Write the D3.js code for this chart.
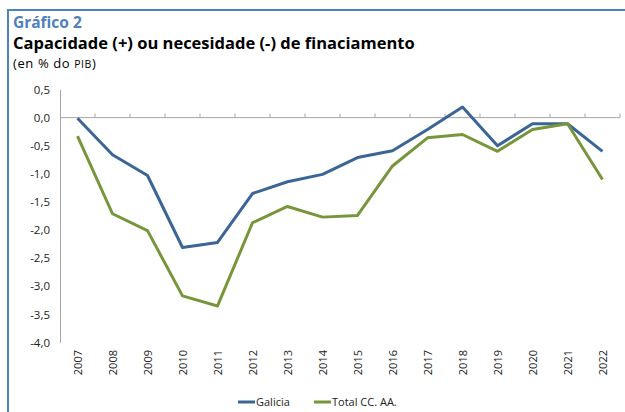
<!DOCTYPE html>
<html>
<head>
<meta charset="utf-8">
<script src="https://cdn.jsdelivr.net/npm/d3@7"></script>
<style>
  body { margin: 0; background: #fff; }
  svg { display: block; font-family: "Open Sans", sans-serif; }
</style>
</head>
<body>
<div id="chart"></div>
<script>
// datos
const years = ['2007','2008','2009','2010','2011','2012','2013','2014','2015','2016','2017','2018','2019','2020','2021','2022'];
const galicia = [-0.01,-0.66,-1.03,-2.31,-2.22,-1.35,-1.14,-1.01,-0.71,-0.59,-0.21,0.19,-0.50,-0.11,-0.11,-0.60];
const totalCCAA = [-0.33,-1.71,-2.01,-3.17,-3.35,-1.87,-1.58,-1.77,-1.74,-0.86,-0.36,-0.30,-0.60,-0.21,-0.11,-1.10];
const yTicks = [0.5,0,-0.5,-1,-1.5,-2,-2.5,-3,-3.5,-4];
const seriesNames = ['Galicia', 'Total CC. AA.'];
const colors = ['#3b6596', '#77963c'];

const width = 625, height = 412;
const svg = d3.select('#chart').append('svg')
    .attr('width', width)
    .attr('height', height);

// marco
svg.append('line').attr('x1', 8).attr('x2', width).attr('y1', 10).attr('y2', 10)
    .attr('stroke', '#4f81bd').attr('stroke-width', 2);
svg.append('line').attr('x1', 8).attr('x2', 8).attr('y1', 9).attr('y2', height)
    .attr('stroke', '#4f81bd').attr('stroke-width', 2);

// títulos
svg.append('text').attr('x', 13).attr('y', 28)
    .attr('fill', '#4f81bd').attr('font-size', 15.5).attr('font-weight', 'bold')
    .text('Gráfico 2');
svg.append('text').attr('x', 13).attr('y', 49)
    .attr('fill', '#000').attr('font-size', 16.5).attr('font-weight', 'bold')
    .text('Capacidade (+) ou necesidade (-) de finaciamento');
const sub = svg.append('text').attr('x', 13).attr('y', 68)
    .attr('fill', '#000').attr('font-size', 13).attr('letter-spacing', 0.6);
sub.append('tspan').text('(en % do ');
sub.append('tspan').attr('font-size', 10.5).text('PIB');
sub.append('tspan').text(')');

const x = d3.scaleBand().domain(years).range([60, 620]);
const y = d3.scaleLinear().domain([-4, 0.5]).range([342.5, 89.5]);

// eje Y
const yAxis = svg.append('g')
    .attr('transform', 'translate(60,0)')
    .call(d3.axisLeft(y).tickValues(yTicks).tickSize(0).tickPadding(10)
        .tickFormat(d => d3.format('.1f')(d).replace('.', ',').replace('−', '-')));
yAxis.select('.domain').attr('stroke', '#a6a6a6');
yAxis.selectAll('text').attr('font-size', 11.5).attr('fill', '#222')
    .attr('font-family', '"Open Sans", sans-serif');

// eje X en cero
const zeroY = y(0);
svg.append('line').attr('x1', 60).attr('x2', 620).attr('y1', zeroY).attr('y2', zeroY)
    .attr('stroke', '#a6a6a6').attr('stroke-width', 1);
svg.append('g').selectAll('line')
    .data(years.slice(1).concat(['end']))
    .enter().append('line')
    .attr('x1', (d, i) => 60 + x.step() * (i + 1))
    .attr('x2', (d, i) => 60 + x.step() * (i + 1))
    .attr('y1', zeroY).attr('y2', zeroY - 4)
    .attr('stroke', '#a6a6a6');

// etiquetas de categoría
svg.append('g').selectAll('text')
    .data(years)
    .enter().append('text')
    .attr('transform', d => `translate(${x(d) + x.bandwidth() / 2 + 4},350) rotate(-90)`)
    .attr('text-anchor', 'end')
    .attr('font-size', 11)
    .attr('fill', '#222')
    .text(d => d);

// líneas
const line = d3.line()
    .x((d, i) => x(years[i]) + x.bandwidth() / 2)
    .y(d => y(d));
[galicia, totalCCAA].forEach((s, k) => {
    svg.append('path')
        .datum(s)
        .attr('fill', 'none')
        .attr('stroke', colors[k])
        .attr('stroke-width', 3)
        .attr('stroke-linejoin', 'round')
        .attr('d', line);
});

// leyenda
const legendX = [238, 314];
seriesNames.forEach((name, k) => {
    svg.append('line').attr('x1', legendX[k]).attr('x2', legendX[k] + 17)
        .attr('y1', 402).attr('y2', 402)
        .attr('stroke', colors[k]).attr('stroke-width', 3);
    svg.append('text').attr('x', legendX[k] + 18).attr('y', 406)
        .attr('font-size', 11).attr('fill', '#222')
        .text(name);
});
</script>
</body>
</html>
